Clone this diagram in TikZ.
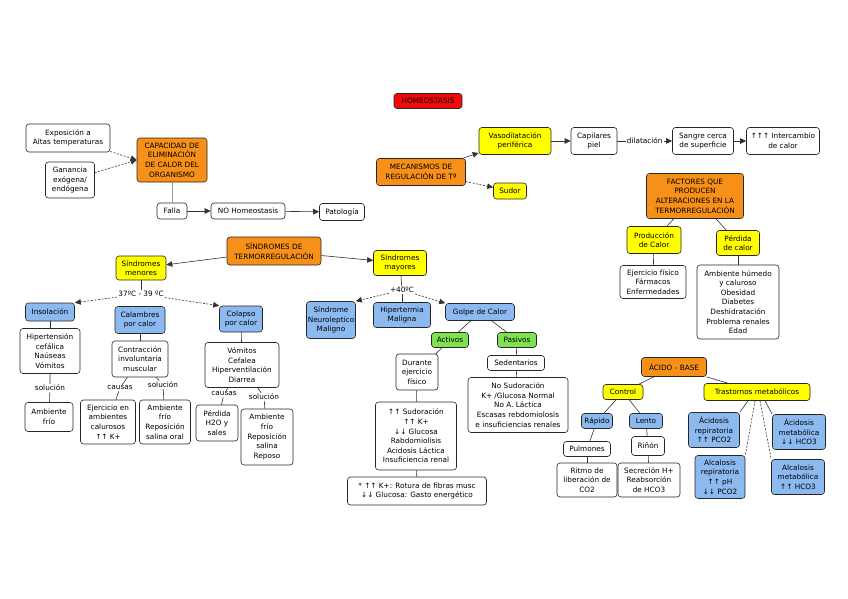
\documentclass[tikz,border=0pt]{standalone}
\usepackage{fontspec}
\setmainfont{DejaVu Sans}
\usetikzlibrary{arrows.meta}
\definecolor{cor}{RGB}{247,144,24}
\definecolor{cye}{RGB}{255,255,0}
\definecolor{cbl}{RGB}{140,185,240}
\definecolor{cgr}{RGB}{125,225,80}
\definecolor{cre}{RGB}{240,10,10}
\newcommand\myfs{\fontsize{7.3}{9.6}\selectfont}
\begin{document}
\begin{tikzpicture}[x=1pt,y=-1pt,
  box/.style={draw=black!85, line width=0.6pt, rounded corners=3pt, align=center, inner sep=1pt, font=\myfs, fill=white},
  bor/.style={box, fill=cor},
  bye/.style={box, fill=cye},
  bbl/.style={box, fill=cbl},
  bgr/.style={box, fill=cgr},
  bre/.style={box, fill=cre},
  con/.style={draw=black!80, line width=0.6pt},
  arr/.style={con, -{Triangle[length=6pt,width=5.5pt]}},
  dsh/.style={dash pattern=on 2pt off 1.5pt},
  lab/.style={fill=white, inner sep=1pt, font=\myfs}]
\fill[white] (0,0) rectangle (848,599);
\useasboundingbox (0,0) rectangle (848,599);

% top-left
\node[bre, minimum width=68pt, minimum height=15pt] (homeo) at (428,101) {HOMEOSTASIS};
\node[box, minimum width=84pt, minimum height=28pt] (expo) at (68,138) {Exposición a\\Altas temperaturas};
\node[box, minimum width=49pt, minimum height=36pt] (gan) at (70,180) {Ganancia\\exógena/\\endógena};
\node[bor, minimum width=70pt, minimum height=44pt] (cap) at (172,160) {CAPACIDAD DE\\ELIMINACIÓN\\DE CALOR DEL\\ORGANISMO};
\node[box, minimum width=30pt, minimum height=16pt] (falla) at (172,211) {Falla};
\node[box, minimum width=74pt, minimum height=16pt] (noh) at (248,211) {NO Homeostasis};
\node[box, minimum width=45pt, minimum height=17pt] (pato) at (342,212) {Patología};

% mecanismos
\node[bor, minimum width=89pt, minimum height=27pt] (meca) at (421,172) {MECANISMOS DE\\REGULACIÓN DE Tª};
\node[bye, minimum width=72pt, minimum height=27pt] (vaso) at (515,141) {Vasodilatación\\periférica};
\node[bye, minimum width=33pt, minimum height=16pt] (sudor) at (510,191) {Sudor};
\node[box, minimum width=46pt, minimum height=27pt] (capi) at (594,141) {Capilares\\piel};
\node[box, minimum width=61pt, minimum height=27pt] (sangre) at (703,141) {Sangre cerca\\de superficie};
\node[box, minimum width=73pt, minimum height=27pt] (inter) at (783,141) {↑↑↑ Intercambio\\de calor};

% factores
\node[bor, minimum width=97pt, minimum height=45pt] (fact) at (695,196) {FACTORES QUE\\PRODUCEN\\ALTERACIONES EN LA\\TERMORREGULACIÓN};
\node[bye, minimum width=54pt, minimum height=27pt] (prod) at (654,240) {Producción\\de Calor};
\node[bye, minimum width=43pt, minimum height=25pt] (perd) at (738,243) {Pérdida\\de calor};
\node[box, minimum width=66pt, minimum height=33pt] (ejer) at (653,282) {Ejercicio físico\\Fármacos\\Enfermedades};
\node[box, minimum width=82pt, minimum height=74pt] (amb) at (738,302) {Ambiente húmedo\\y caluroso\\Obesidad\\Diabetes\\Deshidratación\\Problema renales\\Edad};

% sindromes
\node[bor, minimum width=94pt, minimum height=28pt] (sind) at (274,251) {SÍNDROMES DE\\TERMORREGULACIÓN};
\node[bye, minimum width=50pt, minimum height=24pt] (menores) at (141,268) {Síndromes\\menores};
\node[bye, minimum width=53pt, minimum height=25pt] (mayores) at (400,263) {Síndromes\\mayores};
\node[lab] (l37) at (141,294) {37ºC - 39 ºC};
\node[bbl, minimum width=49pt, minimum height=18pt] (insol) at (50,312) {Insolación};
\node[bbl, minimum width=50pt, minimum height=27pt] (calam) at (140,320) {Calambres\\por calor};
\node[bbl, minimum width=43pt, minimum height=26pt] (colap) at (241,319) {Colapso\\por calor};
\node[box, minimum width=60pt, minimum height=45pt] (hiper) at (50,351) {Hipertensión\\cefálica\\Naúseas\\Vómitos};
\node[box, minimum width=56pt, minimum height=36pt] (contr) at (140,359) {Contracción\\involuntaria\\muscular};
\node[box, minimum width=74pt, minimum height=45pt] (vomi) at (242,365) {Vómitos\\Cefalea\\Hiperventilación\\Diarrea};
\node[lab] (sol1) at (50,388) {solución};
\node[box, minimum width=48pt, minimum height=29pt] (ambf1) at (49,417) {Ambiente\\frío};
\node[lab] (cau2) at (120,388) {causas};
\node[lab] (sol2) at (163,385) {solución};
\node[box, minimum width=55pt, minimum height=44pt] (ejer2) at (108,422) {Ejercicio en\\ambientes\\calurosos\\↑↑ K+};
\node[box, minimum width=51pt, minimum height=44pt] (ambf2) at (165,422) {Ambiente\\frío\\Reposición\\salina oral};
\node[lab] (cau3) at (224,394) {causas};
\node[lab] (sol3) at (264,397) {solución};
\node[box, minimum width=42pt, minimum height=36pt] (perdh) at (217,423) {Pérdida\\H2O y\\sales};
\node[box, minimum width=52pt, minimum height=56pt] (ambf3) at (267,437) {Ambiente\\frío\\Reposición\\salina\\Reposo};

% mayores
\node[lab] (l40) at (402,290) {+40ºC};
\node[bbl, minimum width=49pt, minimum height=37pt] (neuro) at (331,320) {Síndrome\\Neuroleptico\\Maligno};
\node[bbl, minimum width=57pt, minimum height=25pt] (hiperm) at (402,315) {Hipertermia\\Maligna};
\node[bbl, minimum width=69pt, minimum height=17pt] (golpe) at (480,312) {Golpe de Calor};
\node[bgr, minimum width=37pt, minimum height=15pt] (activos) at (450,340) {Activos};
\node[bgr, minimum width=39pt, minimum height=15pt] (pasivos) at (517,340) {Pasivos};
\node[box, minimum width=42pt, minimum height=36pt] (durante) at (417,372) {Durante\\ejercicio\\físico};
\node[box, minimum width=57pt, minimum height=15pt] (sed) at (516,363) {Sedentarios};
\node[box, minimum width=100pt, minimum height=55pt] (nosud) at (518,405) {No Sudoración\\K+ /Glucosa Normal\\No A. Láctica\\Escasas rebdomiolosis\\e insuficiencias renales};
\node[box, minimum width=81pt, minimum height=68pt] (sudo) at (416,436) {↑↑ Sudoración\\↑↑ K+\\↓↓ Glucosa\\Rabdomiolisis\\Acidosis Láctica\\Insuficiencia renal};
\node[box, minimum width=139pt, minimum height=28pt] (nota) at (417,491) {* ↑↑ K+: Rotura de fibras musc\\↓↓ Glucosa: Gasto energético};

% acido base
\node[bor, minimum width=65pt, minimum height=19pt] (acido) at (674,367) {ÁCIDO - BASE};
\node[bye, minimum width=40pt, minimum height=15pt] (control) at (623,392) {Control};
\node[bye, minimum width=106pt, minimum height=17pt] (trast) at (757,392) {Trastornos metabólicos};
\node[bbl, minimum width=31pt, minimum height=15pt] (rapido) at (597,421) {Rápido};
\node[bbl, minimum width=33pt, minimum height=15pt] (lento) at (646,421) {Lento};
\node[box, minimum width=47pt, minimum height=15pt] (pulm) at (587,449) {Pulmones};
\node[box, minimum width=33pt, minimum height=19pt] (rinon) at (648,446) {Riñón};
\node[box, minimum width=60pt, minimum height=34pt] (ritmo) at (587,480) {Ritmo de\\liberación de\\CO2};
\node[box, minimum width=62pt, minimum height=34pt] (secre) at (649,480) {Secreción H+\\Reabsorción\\de HCO3};
\node[bbl, minimum width=51pt, minimum height=35pt] (acresp) at (714,430) {Ácidosis\\repiratoria\\↑↑ PCO2};
\node[bbl, minimum width=50pt, minimum height=43pt] (alresp) at (720,477) {Alcalosis\\repiratoria\\↑↑ pH\\↓↓ PCO2};
\node[bbl, minimum width=53pt, minimum height=35pt] (acmet) at (799,432) {Ácidosis\\metabólica\\↓↓ HCO3};
\node[bbl, minimum width=53pt, minimum height=35pt] (almet) at (798,477) {Alcalosis\\metabólica\\↑↑ HCO3};

% connectors
\draw[arr, dsh] (expo) -- (cap.west);
\draw[arr, dsh] (gan) -- (cap.west);
\draw[con, draw=black!40] (cap) -- (falla);
\draw[arr] (falla) -- (noh);
\draw[arr] (noh) -- (pato);
\draw[arr] (meca) -- (vaso);
\draw[arr, dsh] (meca) -- (sudor);
\draw[arr] (vaso) -- (capi);
\draw[arr] (capi) -- node[lab] {dilatación} (sangre);
\draw[arr] (sangre) -- (inter);
\draw[con] (fact) -- (prod);
\draw[con] (fact) -- (perd);
\draw[con] (prod) -- (ejer);
\draw[con] (perd) -- (amb);
\draw[arr] (sind) -- (menores);
\draw[arr] (sind) -- (mayores);
\draw[con] (menores) -- (l37);
\draw[arr, dsh] (l37) -- (insol.north east);
\draw[arr, dsh] (l37) -- (colap.north west);
\draw[con] (insol) -- (hiper);
\draw[con] (hiper) -- (sol1) -- (ambf1);
\draw[con] (calam) -- (contr);
\draw[con] (contr) -- (cau2) -- (ejer2);
\draw[con] (contr) -- (sol2) -- (ambf2);
\draw[con] (colap) -- (vomi);
\draw[con] (vomi) -- (cau3) -- (perdh);
\draw[con] (vomi) -- (sol3) -- (ambf3);
\draw[con] (mayores) -- (l40);
\draw[con] (l40) -- (hiperm);
\draw[arr, dsh] (l40) -- (neuro.north east);
\draw[arr, dsh] (l40) -- (golpe.north west);
\draw[con] (golpe) -- (activos);
\draw[con] (golpe) -- (pasivos);
\draw[con] (activos) -- (durante);
\draw[con] (durante) -- (sudo);
\draw[con] (sudo) -- (nota);
\draw[con] (pasivos) -- (sed);
\draw[con] (sed) -- (nosud);
\draw[con] (acido) -- (control);
\draw[con] (acido) -- (trast);
\draw[con] (control) -- (rapido);
\draw[con] (control) -- (lento);
\draw[con] (rapido) -- (pulm);
\draw[con] (pulm) -- (ritmo);
\draw[con] (lento) -- (rinon);
\draw[con] (rinon) -- (secre);
\draw[con] ([xshift=-9pt]trast.south) -- (acresp.north east);
\draw[con, dsh] ([xshift=-2pt]trast.south) -- (alresp.north east);
\draw[con, dsh] ([xshift=3pt]trast.south) -- (almet.north west);
\draw[con] ([xshift=8pt]trast.south) -- (acmet.north west);
\end{tikzpicture}
\end{document}
